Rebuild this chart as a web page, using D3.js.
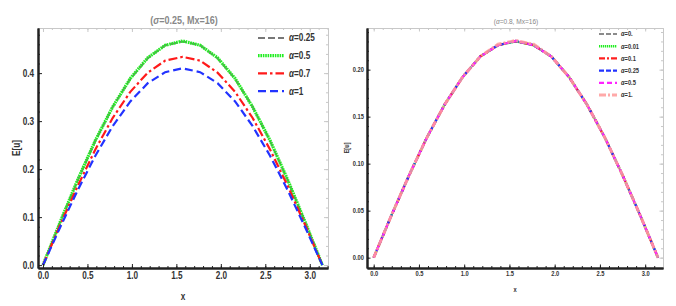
<!DOCTYPE html>
<html><head><meta charset="utf-8">
<script src="https://cdn.jsdelivr.net/npm/d3@7"></script>
<style>
body{margin:0;background:#fff;}
svg{display:block;}
text{font-family:"Liberation Sans Narrow","Arial Narrow","Liberation Sans",sans-serif;}
</style></head><body>
<svg id="c" width="676" height="306"></svg>
<script>
// ---- data ----
const xPts = [0, 0.196, 0.393, 0.589, 0.785, 0.982, 1.178, 1.374, 1.571, 1.767, 1.963, 2.160, 2.356, 2.553, 2.749, 2.945, 3.142];

const leftLabels = ["0.25", "0.5", "0.7", "1"];
const leftA025 = [0, 0.091, 0.178, 0.259, 0.330, 0.388, 0.431, 0.458, 0.466, 0.458, 0.431, 0.388, 0.330, 0.259, 0.178, 0.091, 0];
const leftA05  = [0, 0.091, 0.179, 0.260, 0.330, 0.389, 0.432, 0.458, 0.467, 0.458, 0.432, 0.389, 0.330, 0.260, 0.179, 0.091, 0];
const leftA07  = [0, 0.085, 0.166, 0.241, 0.307, 0.361, 0.401, 0.426, 0.434, 0.426, 0.401, 0.361, 0.307, 0.241, 0.166, 0.085, 0];
const leftA1   = [0, 0.080, 0.157, 0.228, 0.290, 0.341, 0.379, 0.402, 0.410, 0.402, 0.379, 0.341, 0.290, 0.228, 0.157, 0.080, 0];

const rightLabels = ["0.", "0.01", "0.1", "0.25", "0.5", "1."];
const rightA0   = [0, 0.045, 0.088, 0.128, 0.163, 0.192, 0.214, 0.226, 0.230, 0.226, 0.214, 0.192, 0.163, 0.128, 0.088, 0.045, 0];
const rightA001 = [0, 0.045, 0.088, 0.128, 0.163, 0.192, 0.214, 0.226, 0.230, 0.226, 0.214, 0.192, 0.163, 0.128, 0.088, 0.045, 0];
const rightA01  = [0, 0.045, 0.088, 0.128, 0.163, 0.192, 0.214, 0.226, 0.2305, 0.226, 0.214, 0.192, 0.163, 0.128, 0.088, 0.045, 0];
const rightA025 = [0, 0.045, 0.088, 0.128, 0.163, 0.192, 0.214, 0.226, 0.2305, 0.226, 0.214, 0.192, 0.163, 0.128, 0.088, 0.045, 0];
const rightA05  = [0, 0.045, 0.088, 0.128, 0.163, 0.192, 0.214, 0.226, 0.2305, 0.226, 0.214, 0.192, 0.163, 0.128, 0.088, 0.045, 0];
const rightA1   = [0, 0.045, 0.088, 0.128, 0.163, 0.192, 0.214, 0.227, 0.231, 0.227, 0.214, 0.192, 0.163, 0.128, 0.088, 0.045, 0];

const xMajor = [0, 0.5, 1, 1.5, 2, 2.5, 3];
const leftYMajor = [0, 0.1, 0.2, 0.3, 0.4];
const rightYMajor = [0, 0.05, 0.1, 0.15, 0.2];

// ---- drawing ----
const svg = d3.select("#c");
const K = 0.82; // horizontal condensing for a narrow look

function narrow(sel){
  sel.each(function(){
    const t = d3.select(this);
    const x = +t.attr("x") || 0;
    t.attr("x", x / K).attr("transform", `scale(${K},1)`);
  });
}

function panel(cfg){
  const g = svg.append("g");
  const x = d3.scaleLinear().domain(cfg.xd).range([cfg.L, cfg.R]);
  const y = d3.scaleLinear().domain(cfg.yd).range([cfg.B, cfg.T]);
  const xMinor = d3.range(0, 3.21, 0.1).map(v => +v.toFixed(2)).filter(v => x(v) > cfg.L && x(v) < cfg.R);
  const yMinor = d3.range(0, cfg.yd[1], cfg.ymin)
     .map(v => +v.toFixed(4)).filter(v => y(v) > cfg.T && y(v) < cfg.B);

  // top & right gray frame with ticks
  const gray = "#c8c8c8";
  g.append("g").attr("transform", `translate(0,${cfg.T})`)
    .call(d3.axisTop(x).tickValues(xMajor).tickSizeInner(-cfg.maj).tickSizeOuter(0).tickFormat(""));
  g.append("g").attr("transform", `translate(0,${cfg.T})`)
    .call(d3.axisTop(x).tickValues(xMinor).tickSizeInner(-cfg.min).tickSizeOuter(0).tickFormat(""));
  g.append("g").attr("transform", `translate(${cfg.R},0)`)
    .call(d3.axisRight(y).tickValues(cfg.yMajor).tickSizeInner(-cfg.maj).tickSizeOuter(0).tickFormat(""));
  g.append("g").attr("transform", `translate(${cfg.R},0)`)
    .call(d3.axisRight(y).tickValues(yMinor).tickSizeInner(-cfg.min).tickSizeOuter(0).tickFormat(""));
  g.selectAll("path.domain").attr("stroke", gray).attr("stroke-width", 1);
  g.selectAll(".tick line").attr("stroke", gray);

  // lines
  const line = d3.line().x((d,i) => x(xPts[i])).y(d => y(d));
  cfg.series.forEach(s => {
    g.append("path").datum(s.v).attr("d", line)
      .attr("fill","none").attr("stroke", s.c).attr("stroke-width", s.w)
      .attr("stroke-dasharray", s.dash).attr("stroke-linecap","butt")
      .attr("stroke-opacity", s.op || 1);
  });

  // bottom axis
  const bx = g.append("g").attr("transform", `translate(0,${cfg.B})`);
  bx.call(d3.axisBottom(x).tickValues(xMajor).tickSizeInner(-cfg.maj).tickSizeOuter(0)
      .tickPadding(cfg.tp).tickFormat(d3.format(".1f")));
  const bxm = g.append("g").attr("transform", `translate(0,${cfg.B})`);
  bxm.call(d3.axisBottom(x).tickValues(xMinor).tickSizeInner(-cfg.min).tickSizeOuter(0).tickFormat(""));
  // left axis
  const ly = g.append("g").attr("transform", `translate(${cfg.L},0)`);
  ly.call(d3.axisLeft(y).tickValues(cfg.yMajor).tickSizeInner(-cfg.maj).tickSizeOuter(0)
      .tickPadding(cfg.tp).tickFormat(d3.format(cfg.yfmt)));
  const lym = g.append("g").attr("transform", `translate(${cfg.L},0)`);
  lym.call(d3.axisLeft(y).tickValues(yMinor).tickSizeInner(-cfg.min).tickSizeOuter(0).tickFormat(""));
  [bx,bxm,ly,lym].forEach(a => {
    a.select("path.domain").attr("stroke","#222").attr("stroke-width", cfg.aw);
    a.selectAll(".tick line").attr("stroke","#222").attr("stroke-width",1);
    a.selectAll("text").attr("font-size", cfg.fs).attr("font-weight","bold").attr("fill","#333");
  });
  narrow(bx.selectAll("text"));
  narrow(ly.selectAll("text"));

  // title
  const t = g.append("text").attr("x", cfg.tx).attr("y", cfg.ty).attr("text-anchor","middle")
    .attr("font-size", cfg.tfs).attr("font-weight", cfg.tfw).attr("fill","#888");
  t.append("tspan").text("(");
  t.append("tspan").attr("font-style","italic").text(cfg.tSym);
  t.append("tspan").text(cfg.tRest);
  narrow(t);

  // axis labels
  narrow(g.append("text").attr("x", (cfg.L+cfg.R)/2).attr("y", cfg.xly).attr("text-anchor","middle")
    .attr("font-size", cfg.fs).attr("font-weight","bold").attr("fill","#333").text("x"));
  g.append("text").attr("transform", `translate(${cfg.ylx},${(cfg.T+cfg.B)/2}) rotate(-90) scale(${K},1)`)
    .attr("text-anchor","middle").attr("font-size", cfg.fs).attr("font-weight","bold").attr("fill","#333").text("E[u]");

  // legend
  cfg.series.forEach((s,i) => {
    const yy = cfg.lgy + i*cfg.lgdy;
    g.append("line").attr("x1", cfg.lgx).attr("x2", cfg.lgx + cfg.lgw).attr("y1", yy).attr("y2", yy)
      .attr("stroke", s.c).attr("stroke-width", s.w).attr("stroke-dasharray", s.ldash || s.dash)
      .attr("stroke-opacity", s.op || 1);
    const lt = g.append("text").attr("x", cfg.lgx + cfg.lgw + cfg.lgg).attr("y", yy).attr("dy","0.35em")
      .attr("font-size", cfg.lfs).attr("font-weight","bold").attr("fill","#333");
    lt.append("tspan").attr("font-style","italic").text("α");
    lt.append("tspan").text("=" + s.label);
    narrow(lt);
  });
}

panel({
  L:38, R:328, T:28, B:268, xd:[-0.056, 3.205], yd:[-0.006, 0.494],
  yMajor:leftYMajor, ymin:0.02, yfmt:".1f", maj:4, min:2, aw:2, tp:4, fs:10,
  tx:184, ty:24, tfs:11, tfw:"bold", tSym:"σ", tRest:"=0.25, Mx=16)",
  xly:300, ylx:20,
  lgx:258, lgw:26, lgg:5, lgy:38, lgdy:17.7, lfs:10,
  series:[
    {v:leftA025, label:leftLabels[0], c:"#777", w:2, dash:"7,3"},
    {v:leftA05,  label:leftLabels[1], c:"#22ee22", w:3.2, dash:"1.6,0.8"},
    {v:leftA07,  label:leftLabels[2], c:"#ff1a1a", w:2.2, dash:"9,3,2.5,3"},
    {v:leftA1,   label:leftLabels[3], c:"#2233ff", w:2.2, dash:"8,4"}
  ]
});

panel({
  L:367, R:663, T:28, B:268, xd:[-0.074, 3.197], yd:[-0.011, 0.2443],
  yMajor:rightYMajor, ymin:0.01, yfmt:".2f", maj:3.5, min:2, aw:2, tp:3, fs:7,
  tx:516, ty:24, tfs:8, tfw:"normal", tSym:"α", tRest:"=0.8, Mx=16)",
  xly:292, ylx:349,
  lgx:599, lgw:18, lgg:4, lgy:34, lgdy:12.2, lfs:7,
  series:[
    {v:rightA0,   label:rightLabels[0], c:"#666", w:1.6, dash:"5,2"},
    {v:rightA001, label:rightLabels[1], c:"#22ee22", w:2.4, dash:"1.3,0.7"},
    {v:rightA01,  label:rightLabels[2], c:"#ff2020", w:2.4, dash:"6,2,2,2"},
    {v:rightA025, label:rightLabels[3], c:"#2233ff", w:2.2, dash:"5,2"},
    {v:rightA05,  label:rightLabels[4], c:"#ff22ff", w:2.2, dash:"5,3"},
    {v:rightA1,   label:rightLabels[5], c:"#ff9a9a", w:3, dash:"7,2,2,2", op:0.85}
  ]
});
</script>
</body></html>
